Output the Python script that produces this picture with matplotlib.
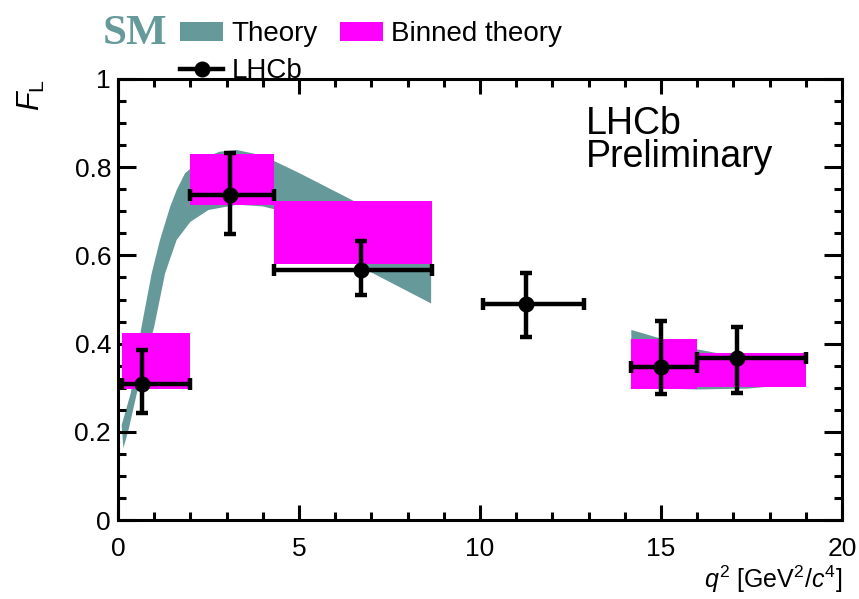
import matplotlib
matplotlib.use("Agg")
import matplotlib.pyplot as plt
from matplotlib.patches import Patch
from matplotlib.lines import Line2D
from matplotlib.ticker import MultipleLocator, FormatStrFormatter
import numpy as np

plt.rcParams['font.family'] = ['Liberation Sans', 'DejaVu Sans']
plt.rcParams['mathtext.fontset'] = 'custom'
plt.rcParams['mathtext.rm'] = 'Liberation Sans'
plt.rcParams['mathtext.it'] = 'Liberation Sans:italic'
plt.rcParams['mathtext.bf'] = 'Liberation Sans:bold'

TEAL = '#669999'
MAGENTA = '#ff00ff'

# LHCb measurement: q2 bins, mean q2 per bin, F_L with its lower/upper error edges
bin_lo = [0.1, 2.0, 4.3, 10.09, 14.18, 16.0]
bin_hi = [2.0, 4.3, 8.68, 12.86, 16.0, 19.0]
q2_mean = [0.65, 3.09, 6.70, 11.27, 15.0, 17.09]
fl = [0.308, 0.737, 0.566, 0.489, 0.348, 0.368]
fl_hi = [0.385, 0.833, 0.633, 0.560, 0.451, 0.437]
fl_lo = [0.242, 0.649, 0.510, 0.414, 0.286, 0.289]

# Binned SM prediction (bins and F_L range)
bt_q2_lo = [0.1, 2.0, 4.3, 14.18, 16.0]
bt_q2_hi = [2.0, 4.3, 8.68, 16.0, 19.0]
bt_lo = [0.296, 0.714, 0.580, 0.297, 0.302]
bt_hi = [0.425, 0.830, 0.724, 0.410, 0.378]

# SM theory band, low-q2 region: upper and lower edges
th1_up_q2 = [0.1, 0.35, 0.65, 0.93, 1.16, 1.44, 1.62, 1.85, 2.3, 2.8, 3.28, 3.8, 4.29, 5.0, 6.5, 8.65]
th1_up = [0.215, 0.287, 0.438, 0.559, 0.635, 0.710, 0.748, 0.786, 0.818, 0.835, 0.839, 0.830, 0.815, 0.787, 0.724, 0.636]
th1_lo_q2 = [0.15, 0.29, 0.52, 0.75, 1.0, 1.3, 1.62, 2.0, 2.5, 3.3, 4.0, 4.3, 5.5, 6.96, 8.65]
th1_lo = [0.163, 0.204, 0.287, 0.360, 0.438, 0.559, 0.635, 0.676, 0.703, 0.715, 0.711, 0.705, 0.640, 0.563, 0.491]

# SM theory band, high-q2 region
th2_q2 = [14.18, 16.0, 17.4, 19.0]
th2_up = [0.431, 0.387, 0.365, 0.330]
th2_lo = [0.300, 0.296, 0.298, 0.310]

fig = plt.figure(figsize=(8.59, 5.99), dpi=100)
ax = fig.add_axes([118 / 859, 79 / 599, 724 / 859, 441 / 599])
ax.set_facecolor('none')

# theory bands
ax.fill(th1_up_q2 + th1_lo_q2[::-1], th1_up + th1_lo[::-1], color=TEAL, lw=0, zorder=1)
ax.fill(th2_q2 + th2_q2[::-1], th2_up + th2_lo[::-1], color=TEAL, lw=0, zorder=1)

# binned theory boxes
bt_w = np.array(bt_q2_hi) - np.array(bt_q2_lo)
bt_h = np.array(bt_hi) - np.array(bt_lo)
ax.bar(bt_q2_lo, bt_h, width=bt_w, bottom=bt_lo, align='edge', color=MAGENTA, lw=0, zorder=2)

# data points
q2m = np.array(q2_mean)
xerr = [q2m - np.array(bin_lo), np.array(bin_hi) - q2m]
yv = np.array(fl)
yerr = [yv - np.array(fl_lo), np.array(fl_hi) - yv]
ax.errorbar(q2m, yv, xerr=xerr, yerr=yerr, fmt='o', color='black', ms=10.5,
            elinewidth=3.2, capsize=4.5, capthick=3.2, zorder=3)

ax.set_xlim(0, 20)
ax.set_ylim(0, 1)

for s in ax.spines.values():
    s.set_linewidth(2.2)

ax.xaxis.set_major_locator(MultipleLocator(5))
ax.xaxis.set_minor_locator(MultipleLocator(1))
ax.yaxis.set_major_locator(MultipleLocator(0.2))
ax.yaxis.set_minor_locator(MultipleLocator(0.05))
ax.yaxis.set_major_formatter(FormatStrFormatter('%g'))
ax.xaxis.set_major_formatter(FormatStrFormatter('%g'))
ax.tick_params(axis='both', which='both', direction='in', top=True, right=True,
               width=2.2, labelsize=19)
ax.tick_params(axis='x', which='major', length=11, pad=12)
ax.tick_params(axis='x', which='minor', length=5.5)
ax.tick_params(axis='y', which='major', length=13, pad=5)
ax.tick_params(axis='y', which='minor', length=6)

ax.set_xlabel(r'$q^2$ [GeV$^2$/$c^4$]', fontsize=18, loc='right', labelpad=2)
ax.set_ylabel(r'$F_{\mathrm{L}}$', fontsize=22, loc='top', labelpad=20)

ax.text(12.93, 0.876, 'LHCb', fontsize=27, va='baseline', ha='left')
ax.text(12.93, 0.800, 'Preliminary', fontsize=27, va='baseline', ha='left')

fig.text(103 / 859, 1 - 44 / 599, 'SM', family='Liberation Serif', weight='bold',
         fontsize=31, color=TEAL, va='baseline', ha='left')

handles = [Patch(facecolor=TEAL, edgecolor='none'),
           Line2D([], [], color='black', lw=3.2, marker='o', ms=10.5),
           Patch(facecolor=MAGENTA, edgecolor='none')]
labels = ['Theory', 'LHCb', 'Binned theory']
leg = fig.legend(handles, labels, ncol=2, loc='upper left',
                 bbox_to_anchor=(180 / 859, 1 - 21 / 599), bbox_transform=fig.transFigure,
                 frameon=False, borderpad=0, borderaxespad=0, handlelength=1.55,
                 handleheight=0.65, handletextpad=0.3, columnspacing=0.8,
                 labelspacing=0.4, fontsize=20)
leg.set_zorder(10)

fig.savefig('out.png', dpi=100)
